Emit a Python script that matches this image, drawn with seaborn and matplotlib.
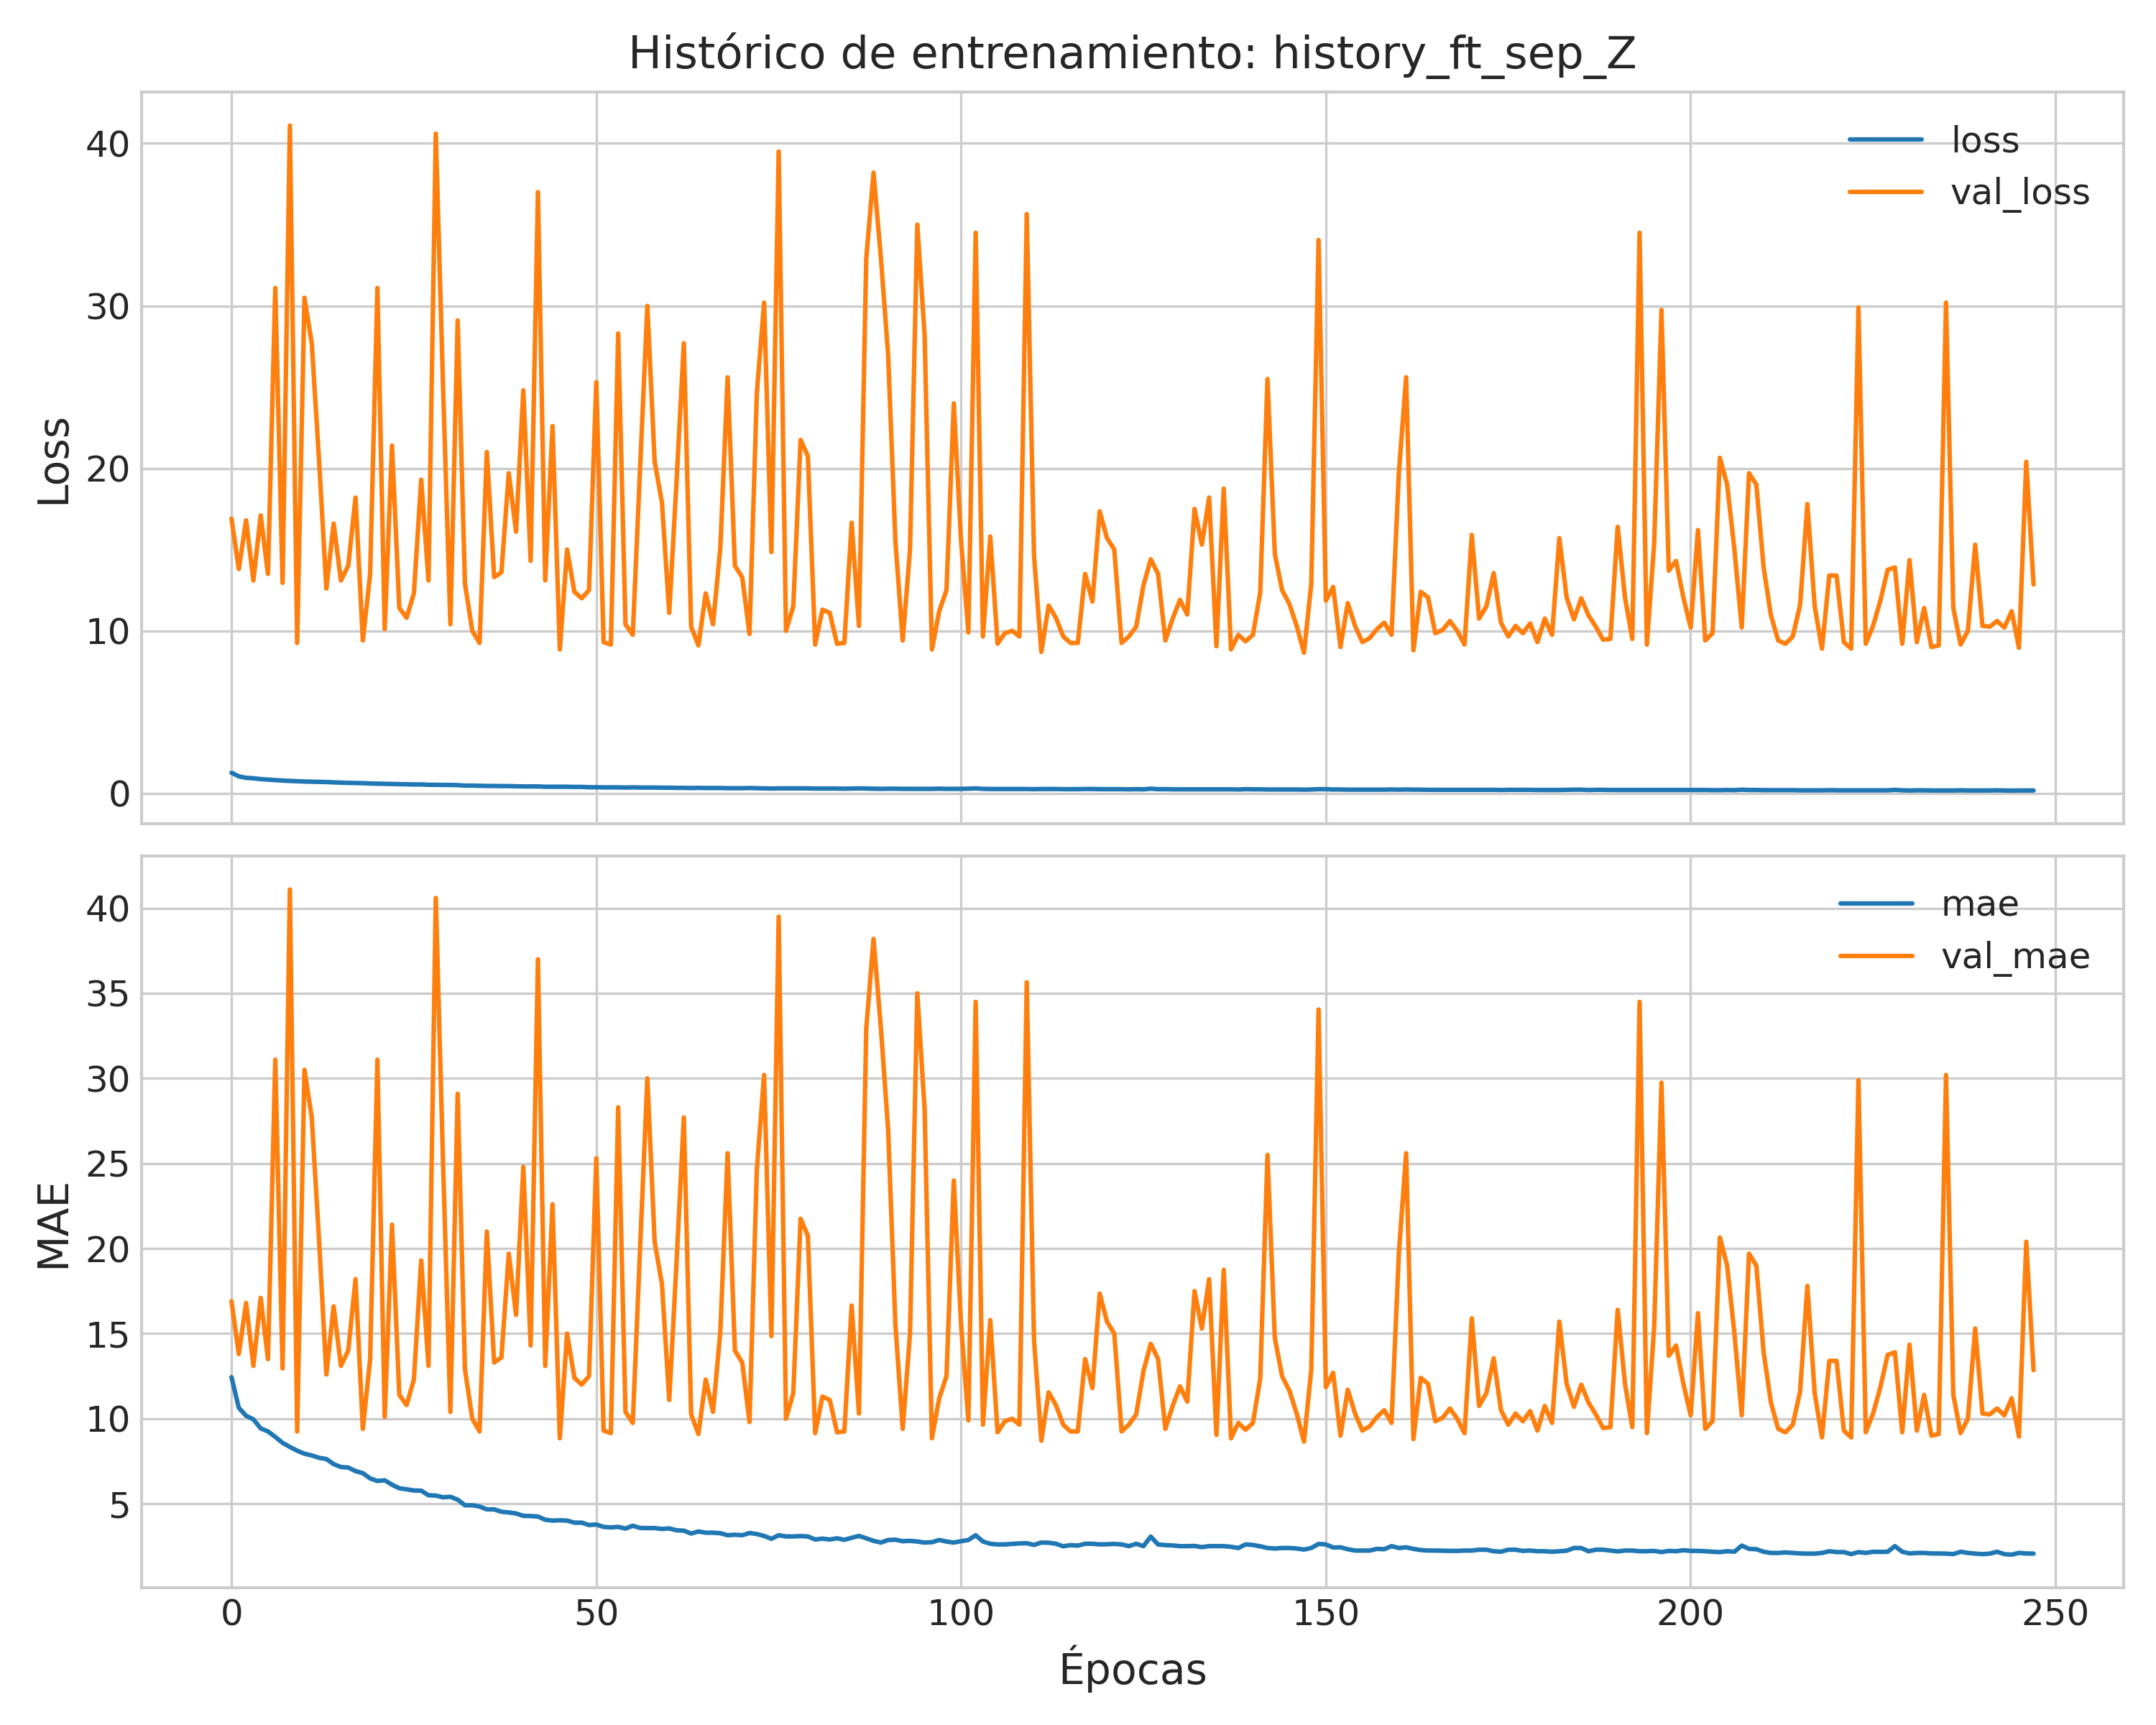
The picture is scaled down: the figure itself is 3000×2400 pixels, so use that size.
import numpy as np
import pandas as pd
import seaborn as sns
import matplotlib
matplotlib.use('Agg')
import matplotlib.pyplot as plt

# training history
loss = [
    1.26, 1.04, 0.95, 0.92, 0.87, 0.84, 0.81, 0.78, 0.76, 0.74,
    0.72, 0.71, 0.70, 0.69, 0.67, 0.65, 0.64, 0.63, 0.62, 0.60,
    0.59, 0.58, 0.57, 0.56, 0.55, 0.54, 0.54, 0.52, 0.52, 0.51,
    0.51, 0.50, 0.47, 0.47, 0.46, 0.45, 0.45, 0.44, 0.44, 0.43,
    0.42, 0.42, 0.42, 0.40, 0.40, 0.40, 0.40, 0.39, 0.39, 0.37,
    0.37, 0.36, 0.36, 0.36, 0.35, 0.36, 0.35, 0.35, 0.35, 0.34,
    0.34, 0.33, 0.33, 0.32, 0.33, 0.32, 0.32, 0.32, 0.31, 0.31,
    0.31, 0.32, 0.31, 0.30, 0.29, 0.30, 0.30, 0.30, 0.30, 0.30,
    0.29, 0.29, 0.29, 0.29, 0.28, 0.29, 0.30, 0.29, 0.28, 0.27,
    0.28, 0.28, 0.27, 0.27, 0.27, 0.27, 0.27, 0.28, 0.27, 0.27,
    0.27, 0.28, 0.30, 0.27, 0.26, 0.26, 0.26, 0.26, 0.26, 0.26,
    0.25, 0.26, 0.26, 0.26, 0.25, 0.25, 0.25, 0.26, 0.26, 0.25,
    0.25, 0.25, 0.25, 0.24, 0.25, 0.24, 0.28, 0.25, 0.25, 0.24,
    0.24, 0.24, 0.24, 0.24, 0.24, 0.24, 0.24, 0.24, 0.23, 0.25,
    0.24, 0.24, 0.23, 0.23, 0.23, 0.23, 0.23, 0.22, 0.23, 0.25,
    0.25, 0.23, 0.23, 0.22, 0.22, 0.22, 0.22, 0.22, 0.22, 0.23,
    0.22, 0.23, 0.22, 0.22, 0.21, 0.21, 0.21, 0.21, 0.21, 0.21,
    0.21, 0.21, 0.21, 0.21, 0.20, 0.21, 0.21, 0.21, 0.21, 0.20,
    0.20, 0.20, 0.20, 0.21, 0.22, 0.22, 0.20, 0.21, 0.21, 0.20,
    0.20, 0.20, 0.20, 0.20, 0.20, 0.20, 0.20, 0.20, 0.20, 0.20,
    0.20, 0.20, 0.20, 0.19, 0.19, 0.20, 0.19, 0.22, 0.20, 0.20,
    0.19, 0.19, 0.19, 0.19, 0.19, 0.18, 0.18, 0.18, 0.18, 0.19,
    0.18, 0.18, 0.18, 0.18, 0.18, 0.18, 0.18, 0.18, 0.21, 0.18,
    0.17, 0.18, 0.18, 0.17, 0.17, 0.17, 0.17, 0.18, 0.17, 0.17,
    0.17, 0.17, 0.18, 0.17, 0.16, 0.17, 0.17, 0.17,
]

val_loss = [
    16.9, 13.8, 16.8, 13.1, 17.1, 13.5, 31.1, 12.95, 41.1, 9.25,
    30.5, 27.7, 20.5, 12.6, 16.6, 13.1, 14.0, 18.2, 9.4, 13.5,
    31.1, 10.1, 21.4, 11.4, 10.8, 12.3, 19.3, 13.1, 40.6, 25.0,
    10.4, 29.1, 12.9, 10.0, 9.25, 21.0, 13.3, 13.6, 19.7, 16.1,
    24.8, 14.3, 37.0, 13.1, 22.6, 8.85, 15.0, 12.4, 12.0, 12.5,
    25.3, 9.3, 9.15, 28.3, 10.4, 9.75, 20.0, 30.0, 20.4, 17.9,
    11.1, 19.2, 27.7, 10.25, 9.1, 12.3, 10.4, 15.1, 25.6, 14.0,
    13.3, 9.8, 24.6, 30.2, 14.85, 39.5, 10.0, 11.5, 21.75, 20.75,
    9.15, 11.3, 11.1, 9.2, 9.25, 16.65, 10.3, 32.9, 38.2, 33.0,
    27.0, 15.5, 9.4, 15.0, 35.0, 28.2, 8.85, 11.2, 12.5, 24.0,
    15.5, 9.9, 34.5, 9.65, 15.8, 9.2, 9.85, 10.0, 9.65, 35.65,
    14.6, 8.7, 11.55, 10.8, 9.65, 9.25, 9.25, 13.5, 11.8, 17.35,
    15.7, 15.0, 9.25, 9.65, 10.25, 12.8, 14.4, 13.5, 9.4, 10.75,
    11.9, 11.0, 17.5, 15.3, 18.2, 9.05, 18.75, 8.85, 9.75, 9.35,
    9.75, 12.35, 25.5, 14.75, 12.5, 11.65, 10.3, 8.65, 12.9, 34.05,
    11.85, 12.7, 9.0, 11.7, 10.3, 9.3, 9.55, 10.1, 10.5, 9.75,
    19.7, 25.6, 8.8, 12.4, 12.05, 9.85, 10.05, 10.6, 10.0, 9.15,
    15.9, 10.75, 11.5, 13.55, 10.5, 9.65, 10.3, 9.85, 10.45, 9.3,
    10.75, 9.75, 15.7, 12.05, 10.7, 12.0, 10.95, 10.25, 9.45, 9.5,
    16.4, 12.05, 9.5, 34.5, 9.15, 15.4, 29.75, 13.7, 14.3, 12.05,
    10.2, 16.2, 9.4, 9.85, 20.65, 19.0, 15.0, 10.2, 19.7, 19.0,
    13.9, 10.95, 9.4, 9.2, 9.65, 11.6, 17.8, 11.5, 8.9, 13.4,
    13.4, 9.3, 8.9, 29.9, 9.2, 10.3, 11.85, 13.75, 13.9, 9.2,
    14.35, 9.3, 11.4, 9.0, 9.1, 30.2, 11.4, 9.15, 10.0, 15.3,
    10.3, 10.25, 10.6, 10.2, 11.2, 8.95, 20.4, 12.85,
]

mae = [
    12.44, 10.64, 10.17, 9.96, 9.43, 9.25, 8.93, 8.58, 8.34, 8.12,
    7.94, 7.84, 7.70, 7.63, 7.33, 7.16, 7.13, 6.92, 6.80, 6.49,
    6.34, 6.38, 6.12, 5.91, 5.85, 5.78, 5.77, 5.50, 5.48, 5.38,
    5.41, 5.24, 4.91, 4.91, 4.84, 4.67, 4.67, 4.53, 4.49, 4.43,
    4.29, 4.28, 4.25, 4.06, 4.01, 4.03, 4.01, 3.89, 3.89, 3.75,
    3.78, 3.64, 3.61, 3.64, 3.54, 3.71, 3.58, 3.57, 3.57, 3.52,
    3.55, 3.44, 3.42, 3.25, 3.37, 3.30, 3.30, 3.27, 3.15, 3.18,
    3.15, 3.28, 3.22, 3.11, 2.94, 3.15, 3.08, 3.08, 3.10, 3.08,
    2.90, 2.95, 2.90, 2.97, 2.88, 3.00, 3.11, 2.97, 2.82, 2.72,
    2.87, 2.89, 2.80, 2.82, 2.78, 2.72, 2.74, 2.87, 2.78, 2.72,
    2.80, 2.87, 3.15, 2.78, 2.65, 2.61, 2.61, 2.64, 2.67, 2.68,
    2.58, 2.72, 2.71, 2.65, 2.50, 2.57, 2.54, 2.65, 2.65, 2.61,
    2.62, 2.64, 2.61, 2.51, 2.65, 2.51, 3.07, 2.61, 2.57, 2.55,
    2.51, 2.51, 2.52, 2.45, 2.51, 2.51, 2.51, 2.47, 2.40, 2.61,
    2.58, 2.50, 2.40, 2.37, 2.40, 2.40, 2.37, 2.31, 2.40, 2.64,
    2.61, 2.43, 2.44, 2.33, 2.25, 2.25, 2.25, 2.35, 2.33, 2.51,
    2.40, 2.44, 2.35, 2.28, 2.25, 2.25, 2.24, 2.23, 2.23, 2.25,
    2.25, 2.30, 2.30, 2.21, 2.18, 2.30, 2.30, 2.23, 2.25, 2.21,
    2.21, 2.18, 2.21, 2.24, 2.40, 2.40, 2.21, 2.30, 2.30, 2.25,
    2.20, 2.25, 2.25, 2.21, 2.21, 2.23, 2.16, 2.23, 2.21, 2.27,
    2.23, 2.23, 2.21, 2.18, 2.16, 2.21, 2.18, 2.54, 2.35, 2.33,
    2.18, 2.11, 2.11, 2.14, 2.11, 2.08, 2.07, 2.07, 2.11, 2.21,
    2.16, 2.16, 2.04, 2.16, 2.11, 2.18, 2.17, 2.18, 2.51, 2.18,
    2.08, 2.11, 2.11, 2.08, 2.08, 2.07, 2.04, 2.18, 2.11, 2.07,
    2.04, 2.07, 2.18, 2.04, 2.01, 2.11, 2.08, 2.07,
]

# val_mae is the very same curve as val_loss in this history
val_mae = list(val_loss)

epochs = np.arange(len(loss))

plt.style.use('seaborn-v0_8-whitegrid')
plt.rcParams['font.family'] = ['DejaVu Sans']
plt.rcParams['xtick.labelsize'] = 12
plt.rcParams['ytick.labelsize'] = 12

blue = '#1f77b4'
orange = '#ff7f0e'
lw = 1.5

fig, (ax1, ax2) = plt.subplots(2, 1, figsize=(10, 8), dpi=300, sharex=True)

sns.lineplot(x=epochs, y=loss, ax=ax1, color=blue, label='loss', linewidth=lw)
sns.lineplot(x=epochs, y=val_loss, ax=ax1, color=orange, label='val_loss', linewidth=lw)
ax1.set_ylabel('Loss', fontsize=14)
ax1.set_title('Histórico de entrenamiento: history_ft_sep_Z', fontsize=15, pad=8)
ax1.legend(loc='upper right', fontsize=12, frameon=False)

sns.lineplot(x=epochs, y=mae, ax=ax2, color=blue, label='mae', linewidth=lw)
sns.lineplot(x=epochs, y=val_mae, ax=ax2, color=orange, label='val_mae', linewidth=lw)
ax2.set_ylabel('MAE', fontsize=14)
ax2.set_xlabel('Épocas', fontsize=14)
ax2.legend(loc='upper right', fontsize=12, frameon=False)

plt.tight_layout()
fig.savefig('out.png', dpi=300)
